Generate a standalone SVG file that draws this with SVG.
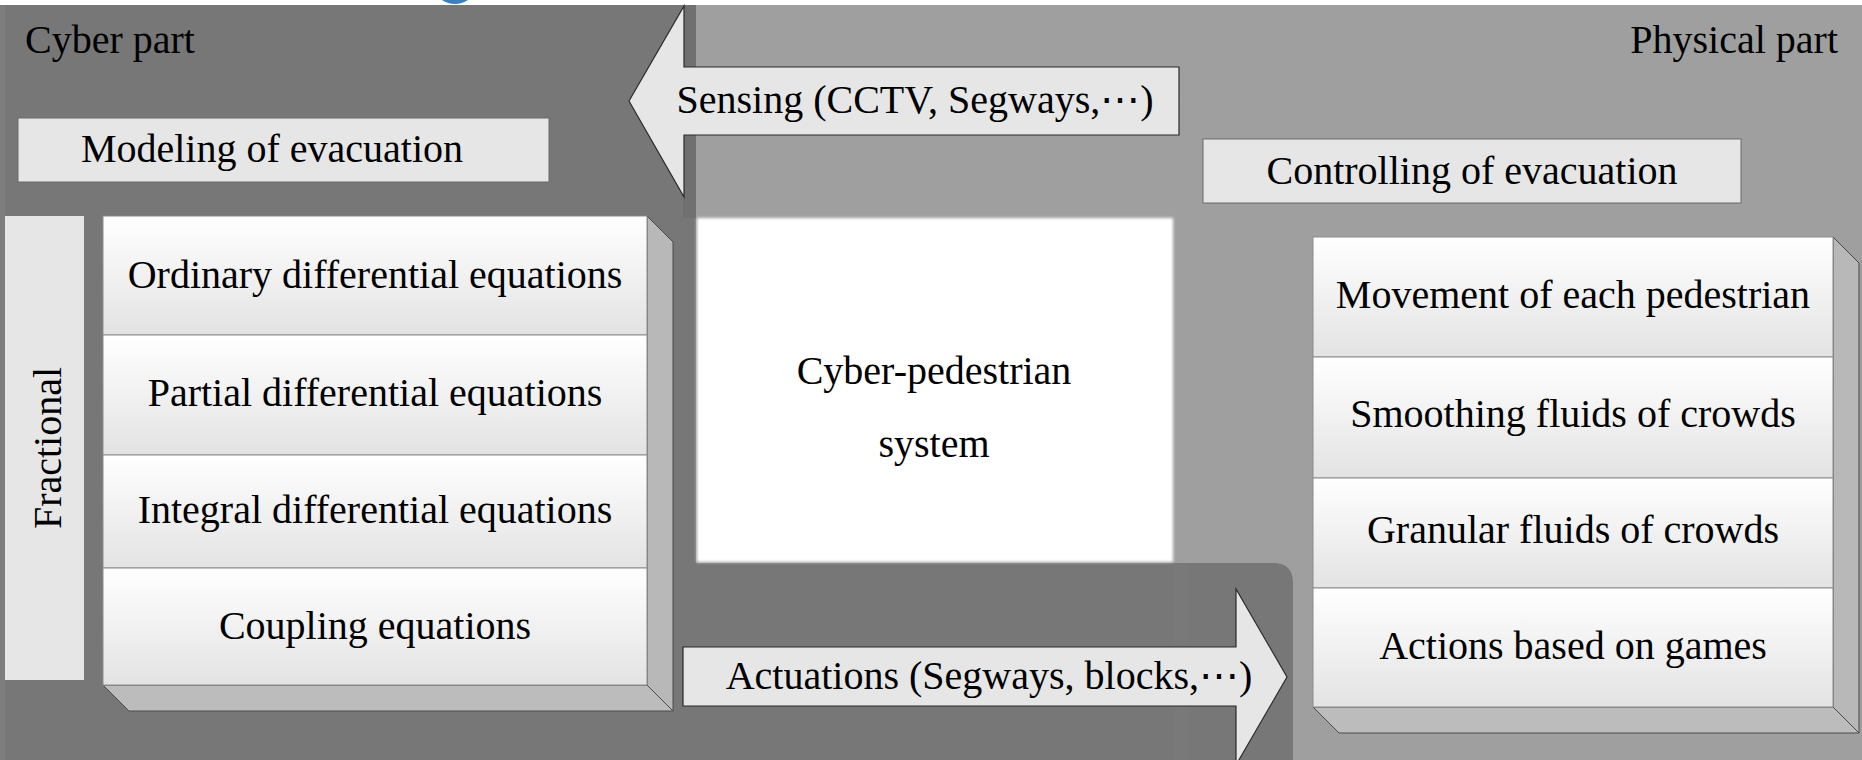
<svg xmlns="http://www.w3.org/2000/svg" width="1862" height="760" viewBox="0 0 1862 760">
  <style>
    text { font-family: "Liberation Serif", "DejaVu Serif", serif; font-size: 40px; fill: #000; }
    .mid { text-anchor: middle; }
    .box { fill: #e6e6e6; stroke: #6a6a6a; stroke-width: 1; }
    .arrow { fill: #e6e6e6; stroke: #2a2a2a; stroke-width: 1.2; stroke-linejoin: miter; }
    .row { fill: url(#rowGrad); stroke: #8c8c8c; stroke-width: 1; }
    .sideR { fill: #b8b8b8; stroke: #4a4a4a; stroke-width: 1; }
    .sideB { fill: #bcbcbc; stroke: #4a4a4a; stroke-width: 1; }
  </style>
  <defs>
    <linearGradient id="rowGrad" x1="0" y1="0" x2="0" y2="1">
      <stop offset="0" stop-color="#ffffff"/>
      <stop offset="1" stop-color="#e3e3e3"/>
    </linearGradient>
    <filter id="soft" x="-5%" y="-5%" width="110%" height="110%">
      <feGaussianBlur stdDeviation="1.5"/>
    </filter>
  </defs>

  <!-- background -->
  <rect x="0" y="0" width="1862" height="760" fill="#ffffff"/>
  <rect x="0" y="5" width="1862" height="755" fill="#9f9f9f"/>
  <path d="M442,0 H468 Q462,4 455,4 Q448,4 442,0 Z" fill="#3c7fc0"/>
  <path d="M0,5 H696 V563 H1273 Q1293,563 1293,583 V760 H0 Z" fill="#777777"/>
  <rect x="0" y="5" width="5" height="755" fill="#7d7d7d"/>
  <rect x="683" y="5" width="13" height="213" fill="#707070"/>
  <rect x="1173" y="563" width="15" height="197" fill="#7c7c7c" opacity="0.6"/>

  <!-- central white box -->
  <g id="node-cps">
    <rect x="697" y="218" width="476" height="344" fill="#ffffff" filter="url(#soft)"/>
    <text class="mid" x="934" y="384">Cyber-pedestrian</text>
    <text class="mid" x="934" y="457">system</text>
  </g>

  <g id="label-cyber">
    <text x="25" y="53">Cyber part</text>
  </g>
  <g id="label-physical">
    <text x="1838" y="53" text-anchor="end">Physical part</text>
  </g>

  <g id="node-modeling">
    <rect class="box" x="18" y="118" width="531" height="64"/>
    <text class="mid" x="272" y="162">Modeling of evacuation</text>
  </g>

  <g id="node-controlling">
    <rect class="box" x="1203" y="139" width="538" height="64"/>
    <text class="mid" x="1472" y="184">Controlling of evacuation</text>
  </g>

  <g id="node-fractional">
    <rect x="5" y="216" width="79" height="464" fill="#e6e6e6"/>
    <text class="mid" transform="translate(61,448) rotate(-90)" x="0" y="0">Fractional</text>
  </g>

  <g id="node-cyber-stack">
    <polygon class="sideR" points="647,216 673,242 673,711 647,685"/>
    <polygon class="sideB" points="103,685 647,685 673,711 129,711"/>
    <rect class="row" x="103" y="216" width="544" height="119"/>
    <rect class="row" x="103" y="335" width="544" height="120"/>
    <rect class="row" x="103" y="455" width="544" height="113"/>
    <rect class="row" x="103" y="568" width="544" height="117"/>
    <text class="mid" x="375" y="288">Ordinary differential equations</text>
    <text class="mid" x="375" y="406">Partial differential equations</text>
    <text class="mid" x="375" y="523">Integral differential equations</text>
    <text class="mid" x="375" y="639">Coupling equations</text>
  </g>

  <g id="node-physical-stack">
    <polygon class="sideR" points="1833,237 1859,263 1859,733 1833,707"/>
    <polygon class="sideB" points="1313,707 1833,707 1859,733 1339,733"/>
    <rect class="row" x="1313" y="237" width="520" height="120"/>
    <rect class="row" x="1313" y="357" width="520" height="121"/>
    <rect class="row" x="1313" y="478" width="520" height="110"/>
    <rect class="row" x="1313" y="588" width="520" height="119"/>
    <text class="mid" x="1573" y="308">Movement of each pedestrian</text>
    <text class="mid" x="1573" y="427">Smoothing fluids of crowds</text>
    <text class="mid" x="1573" y="543">Granular fluids of crowds</text>
    <text class="mid" x="1573" y="659">Actions based on games</text>
  </g>

  <g id="connectors">
    <g id="edge-sensing">
      <polygon class="arrow" points="629,101 684,6 684,67 1179,67 1179,135 684,135 684,197"/>
      <text class="mid" x="915" y="113">Sensing (CCTV, Segways,⋯)</text>
    </g>
    <g id="edge-actuations">
      <polygon class="arrow" points="683,647 1236,647 1236,589 1287,677 1236,765 1236,706 683,706"/>
      <text class="mid" x="989" y="689">Actuations (Segways, blocks,⋯)</text>
    </g>
  </g>
</svg>
